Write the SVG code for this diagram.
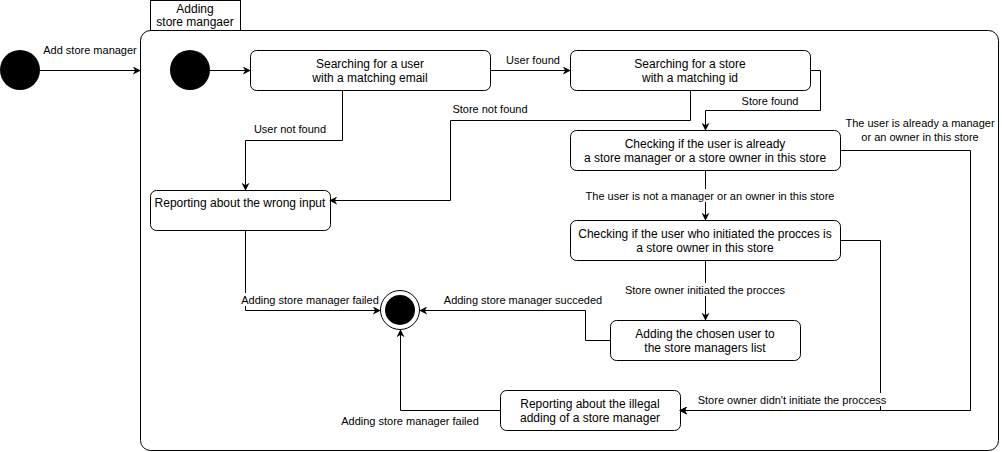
<svg xmlns="http://www.w3.org/2000/svg" width="1002" height="452" viewBox="0 0 1002 452">
<defs>
<marker id="arr" viewBox="0 0 10 10" refX="9" refY="5" markerWidth="8" markerHeight="8" markerUnits="userSpaceOnUse" orient="auto">
<path d="M0,0 L10,5 L0,10 L3,5 Z" fill="#000"/>
</marker>
<style>
.box{fill:#fff;stroke:#000;stroke-width:1}
.t{font-family:"Liberation Sans",Arial,sans-serif;font-size:12px;fill:#000;text-anchor:middle}
.l{font-family:"Liberation Sans",Arial,sans-serif;font-size:11px;fill:#000;text-anchor:middle}
.e{fill:none;stroke:#000;stroke-width:1;marker-end:url(#arr)}
.lb{fill:#fff}
</style>
</defs>
<rect width="1002" height="452" fill="#fff"/>
<g id="container">
<rect x="150.5" y="0.5" width="90" height="30" fill="#fff" stroke="#000"/>
<text class="t" x="195" y="13">Adding</text>
<text class="t" x="195" y="26">store mangaer</text>
<rect x="140.5" y="30.5" width="858" height="420" rx="10" ry="10" fill="#fff" stroke="#000"/>
</g>
<g id="start-outer"><circle cx="20" cy="70" r="20" fill="#000"/></g>
<g id="start-inner"><circle cx="190" cy="70" r="20" fill="#000"/></g>
<g id="end"><circle cx="400" cy="310" r="19.5" fill="#fff" stroke="#000"/><circle cx="400" cy="310" r="15" fill="#000"/></g>
<g id="search-user"><rect class="box" x="250.5" y="50.5" width="240" height="40" rx="6"/><text class="t" x="370" y="68">Searching for a user</text><text class="t" x="370" y="82">with a matching email</text></g>
<g id="search-store"><rect class="box" x="570.5" y="50.5" width="240" height="40" rx="6"/><text class="t" x="690" y="68">Searching for a store</text><text class="t" x="690" y="82">with a matching id</text></g>
<g id="check-manager"><rect class="box" x="570.5" y="130.5" width="270" height="40" rx="6"/><text class="t" x="705" y="148">Checking if the user is already</text><text class="t" x="705" y="162">a store manager or a store owner in this store</text></g>
<g id="wrong-input"><rect class="box" x="150.5" y="190.5" width="180" height="40" rx="6"/><text class="t" x="240" y="207">Reporting about the wrong input</text></g>
<g id="check-owner"><rect class="box" x="570.5" y="220.5" width="270" height="40" rx="6"/><text class="t" x="705" y="238">Checking if the user who initiated the procces is</text><text class="t" x="705" y="252">a store owner in this store</text></g>
<g id="add-user"><rect class="box" x="610.5" y="320.5" width="190" height="40" rx="6"/><text class="t" x="705" y="338">Adding the chosen user to</text><text class="t" x="705" y="352">the store managers list</text></g>
<g id="illegal"><rect class="box" x="500.5" y="390.5" width="180" height="40" rx="6"/><text class="t" x="590" y="408">Reporting about the illegal</text><text class="t" x="590" y="422">adding of a store manager</text></g>
<g id="connectors">
<path class="e" d="M40,70.5 H140"/>
<path class="e" d="M210,70.5 H250"/>
<path class="e" d="M490,70.5 H570"/>
<path class="e" d="M810,70.5 H820.5 V110.5 H705.5 V130"/>
<path class="e" d="M342.5,90 V140.5 H245.5 V190"/>
<path class="e" d="M690.5,90 V120.5 H450.5 V200.5 H330"/>
<path class="e" d="M705.5,170 V220"/>
<path class="e" d="M705.5,260 V320"/>
<path class="e" d="M610,340.5 H585.5 V310.5 H420"/>
<path class="e" d="M245.5,230 V310.5 H380"/>
<path class="e" d="M840,240.5 H880.5 V410.5 H680"/>
<path class="e" d="M840,150.5 H970.5 V410.5 H680"/>
<path class="e" d="M500,410.5 H400.5 V330"/>
</g>
<g id="labels">
<text class="l" x="90" y="54">Add store manager</text>
<rect class="lb" x="505" y="53" width="57" height="13"/><text class="l" x="533" y="64">User found</text>
<rect class="lb" x="740" y="95" width="60" height="13"/><text class="l" x="770" y="105">Store found</text>
<rect class="lb" x="451" y="103" width="79" height="13"/><text class="l" x="490" y="113">Store not found</text>
<rect class="lb" x="253" y="123" width="75" height="13"/><text class="l" x="290" y="133">User not found</text>
<text class="l" x="920" y="127">The user is already a manager</text>
<text class="l" x="920" y="141">or an owner in this store</text>
<rect class="lb" x="585" y="189" width="251" height="13"/><text class="l" x="710" y="200">The user is not a manager or an owner in this store</text>
<rect class="lb" x="624" y="283" width="163" height="13"/><text class="l" x="705" y="294">Store owner initiated the procces</text>
<rect class="lb" x="442" y="293" width="162" height="13"/><text class="l" x="523" y="304">Adding store manager succeded</text>
<rect class="lb" x="241" y="293" width="139" height="13"/><text class="l" x="310" y="304">Adding store manager failed</text>
<rect class="lb" x="695" y="393" width="193" height="13"/><text class="l" x="792" y="404">Store owner didn't initiate the proccess</text>
<text class="l" x="410" y="425">Adding store manager failed</text>
</g>
</svg>
